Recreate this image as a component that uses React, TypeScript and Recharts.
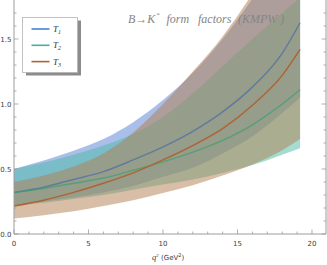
import { ComposedChart, Area, Line, XAxis, YAxis } from 'recharts';

// q^2 grid (GeV^2) and the three KMPW tensor form factors
const q2 = [0, 2, 4, 6, 8, 10, 12, 14, 16, 18, 19.2];

const t1 = [0.32, 0.36, 0.42, 0.48, 0.57, 0.67, 0.79, 0.94, 1.13, 1.39, 1.625];
const t1Lo = [0.22, 0.25, 0.28, 0.32, 0.37, 0.44, 0.51, 0.62, 0.75, 0.93, 1.05];
const t1Hi = [0.5, 0.565, 0.64, 0.73, 0.86, 1.03, 1.24, 1.5, 1.81, 2.17, 2.4];

const t2 = [0.32, 0.35, 0.39, 0.43, 0.49, 0.555, 0.63, 0.72, 0.84, 1.0, 1.11];
const t2Lo = [0.22, 0.24, 0.27, 0.3, 0.34, 0.38, 0.42, 0.47, 0.53, 0.61, 0.66];
const t2Hi = [0.5, 0.55, 0.61, 0.68, 0.77, 0.9, 1.08, 1.29, 1.5, 1.7, 1.82];

const t3 = [0.215, 0.26, 0.32, 0.39, 0.47, 0.57, 0.68, 0.81, 0.99, 1.22, 1.42];
const t3Lo = [0.12, 0.145, 0.175, 0.215, 0.26, 0.315, 0.375, 0.45, 0.535, 0.645, 0.73];
const t3Hi = [0.4, 0.45, 0.52, 0.62, 0.78, 1.0, 1.25, 1.52, 1.85, 2.23, 2.48];

const xTicks = [0, 1, 2, 3, 4, 5, 6, 7, 8, 9, 10, 11, 12, 13, 14, 15, 16, 17, 18, 19, 20];
const yTicks = [0, 0.1, 0.2, 0.3, 0.4, 0.5, 0.6, 0.7, 0.8, 0.9, 1.0, 1.1, 1.2, 1.3, 1.4, 1.5, 1.6, 1.7];

const BLUE_LINE = '#4b7fd5';
const TEAL_LINE = '#4aae98';
const BROWN_LINE = '#ac6434';
const BLUE_FILL = '#537fd3';
const TEAL_FILL = '#4bb9a5';
const BROWN_FILL = '#b17d4d';
const FRAME = '#9c9c9c';
const LABEL = '#3c3c3c';
const BAND_OPACITY = 0.5;

const data = q2.map((q, i) => ({
  q,
  t1: t1[i],
  t2: t2[i],
  t3: t3[i],
  b1: [t1Lo[i], t1Hi[i]],
  b2: [t2Lo[i], t2Hi[i]],
  b3: [t3Lo[i], t3Hi[i]],
}));

const isMajorX = (v: number) => v % 5 === 0;
const isMajorY = (v: number) => Math.abs(v * 2 - Math.round(v * 2)) < 1e-6;

function BottomTick({ x, y, payload }: any) {
  const v = payload.value;
  const major = isMajorX(v);
  return (
    <g>
      <line x1={x} x2={x} y1={y} y2={y - (major ? 4.5 : 2.5)} stroke={FRAME} strokeWidth={0.8} />
      {major && (
        <text x={x} y={y + 11.5} textAnchor="middle" fontSize={7} fontFamily="DejaVu Sans" fill={LABEL}>
          {v}
        </text>
      )}
    </g>
  );
}

function TopTick({ x, y, payload }: any) {
  const major = isMajorX(payload.value);
  return <line x1={x} x2={x} y1={y} y2={y + (major ? 4.5 : 2.5)} stroke={FRAME} strokeWidth={0.8} />;
}

function LeftTick({ x, y, payload }: any) {
  const v = payload.value;
  const major = isMajorY(v);
  return (
    <g>
      <line x1={x} x2={x + (major ? 4.5 : 2.5)} y1={y} y2={y} stroke={FRAME} strokeWidth={0.8} />
      {major && (
        <text x={x - 2.5} y={y + 2.5} textAnchor="end" fontSize={7} fontFamily="DejaVu Sans" fill={LABEL}>
          {v.toFixed(1)}
        </text>
      )}
    </g>
  );
}

function RightTick({ x, y, payload }: any) {
  const major = isMajorY(payload.value);
  return <line x1={x} x2={x - (major ? 4.5 : 2.5)} y1={y} y2={y} stroke={FRAME} strokeWidth={0.8} />;
}

const legendItems = [
  { color: BLUE_LINE, sub: '1' },
  { color: TEAL_LINE, sub: '2' },
  { color: BROWN_LINE, sub: '3' },
];

export default function App() {
  const axisIds = { xAxisId: 'b', yAxisId: 'l' };
  return (
    <div style={{ position: 'absolute', left: 0, top: 0, width: 327, height: 265, background: '#fff' }}>
      <ComposedChart width={327} height={265} data={data} margin={{ top: 0, right: 0, bottom: 0, left: 0 }}>
        <XAxis
          xAxisId="b"
          dataKey="q"
          type="number"
          domain={[0, 20.94]}
          allowDataOverflow
          ticks={xTicks}
          interval={0}
          height={31}
          tickLine={false}
          tickSize={0}
          tickMargin={0}
          axisLine={{ stroke: FRAME }}
          tick={(p: any) => <BottomTick {...p} />}
        />
        <XAxis
          xAxisId="t"
          orientation="top"
          dataKey="q"
          type="number"
          domain={[0, 20.94]}
          allowDataOverflow
          ticks={xTicks}
          interval={0}
          height={0}
          tickLine={false}
          tickSize={0}
          tickMargin={0}
          axisLine={{ stroke: FRAME }}
          tick={(p: any) => <TopTick {...p} />}
        />
        <YAxis
          yAxisId="l"
          type="number"
          domain={[0, 1.8]}
          allowDataOverflow
          ticks={yTicks}
          interval={0}
          width={14}
          tickLine={false}
          tickSize={0}
          tickMargin={0}
          axisLine={{ stroke: FRAME }}
          tick={(p: any) => <LeftTick {...p} />}
        />
        <YAxis
          yAxisId="r"
          orientation="right"
          type="number"
          domain={[0, 1.8]}
          allowDataOverflow
          ticks={yTicks}
          interval={0}
          width={1}
          tickLine={false}
          tickSize={0}
          tickMargin={0}
          axisLine={{ stroke: FRAME }}
          tick={(p: any) => <RightTick {...p} />}
        />
        <Area {...axisIds} zIndex={101} type="monotone" dataKey="b1" fill={BLUE_FILL} fillOpacity={BAND_OPACITY} stroke="none" isAnimationActive={false} />
        <Area {...axisIds} zIndex={102} type="monotone" dataKey="b2" fill={TEAL_FILL} fillOpacity={BAND_OPACITY} stroke="none" isAnimationActive={false} />
        <Area {...axisIds} zIndex={103} type="monotone" dataKey="b3" fill={BROWN_FILL} fillOpacity={BAND_OPACITY} stroke="none" isAnimationActive={false} />
        <Line {...axisIds} zIndex={104} type="monotone" dataKey="t1" stroke="#3d64a8" strokeOpacity={0.6} strokeWidth={1.5} dot={false} isAnimationActive={false} />
        <Line {...axisIds} zIndex={105} type="monotone" dataKey="t2" stroke="#35a070" strokeOpacity={0.65} strokeWidth={1.5} dot={false} isAnimationActive={false} />
        <Line {...axisIds} zIndex={106} type="monotone" dataKey="t3" stroke={BROWN_LINE} strokeWidth={1.5} dot={false} isAnimationActive={false} />
      </ComposedChart>
      <svg width={327} height={265} style={{ position: 'absolute', left: 0, top: 0, pointerEvents: 'none' }}>
        <g fontFamily="Liberation Serif" fontStyle="italic" fontSize={12} fill="#858585">
          <text x={128} y={23}>B→K</text>
          <text x={156} y={17} fontSize={7}>*</text>
          <text x={166.5} y={23}>form</text>
          <text x={198} y={23}>factors</text>
          <text x={238} y={23} xmlSpace="preserve">(KMPW )</text>
        </g>
        <rect x={26} y={20.5} width={55} height={55} fill="#8c8c8c" />
        <rect x={22.5} y={17.5} width={55} height={55} fill="#fff" stroke="#b4b4b4" strokeWidth={0.8} />
        {legendItems.map((it, i) => (
          <g key={it.sub}>
            <line x1={31.5} x2={49.5} y1={29 + i * 16.3} y2={29 + i * 16.3} stroke={it.color} strokeWidth={1.6} />
            <text x={53} y={32 + i * 16.3} fontFamily="Liberation Serif" fontStyle="italic" fontSize={9} fill="#333">
              T
              <tspan fontSize={6} dy={2}>
                {it.sub}
              </tspan>
            </text>
          </g>
        ))}
        <text x={152} y={260} fontSize={7} fill={LABEL}>
          <tspan fontFamily="Liberation Serif" fontStyle="italic" fontSize={8.5}>q</tspan>
          <tspan fontSize={5} dy={-3}>2</tspan>
          <tspan fontFamily="DejaVu Sans" dy={3} xmlSpace="preserve"> (GeV</tspan>
          <tspan fontFamily="DejaVu Sans" fontSize={5} dy={-3}>2</tspan>
          <tspan fontFamily="DejaVu Sans" dy={3}>)</tspan>
        </text>
      </svg>
    </div>
  );
}
